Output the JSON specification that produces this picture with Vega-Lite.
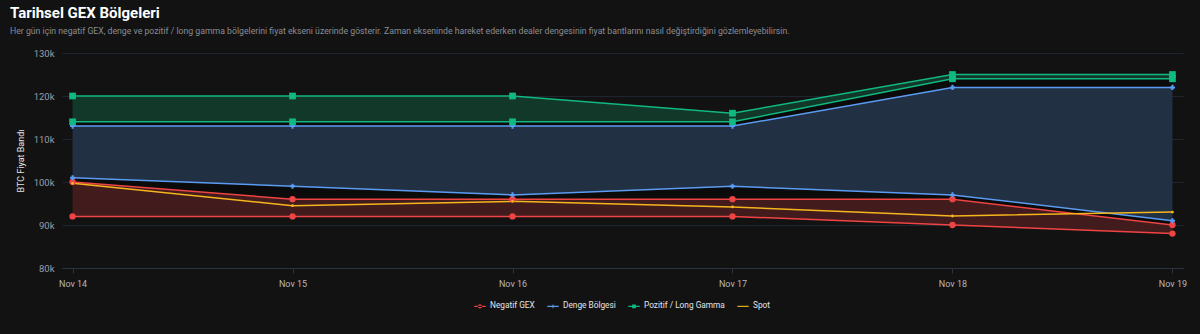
{
  "$schema": "https://vega.github.io/schema/vega-lite/v6.json",
  "width": 1121,
  "height": 215,
  "autosize": {"type": "none"},
  "padding": {"left": 62, "top": 53, "right": 17, "bottom": 66},
  "background": "#121212",
  "title": {
    "text": "Tarihsel GEX Bölgeleri",
    "subtitle": "Her gün için negatif GEX, denge ve pozitif / long gamma bölgelerini fiyat ekseni üzerinde gösterir. Zaman ekseninde hareket ederken dealer dengesinin fiyat bantlarını nasıl değiştirdiğini gözlemleyebilirsin.",
    "anchor": "start",
    "frame": "group",
    "dx": -52,
    "offset": 12,
    "color": "#ffffff",
    "fontSize": 15,
    "fontWeight": "bold",
    "subtitleColor": "#8a8d93",
    "subtitleFontSize": 8.7,
    "subtitlePadding": 6
  },
  "config": {
    "font": "Roboto",
    "view": {"stroke": null},
    "axis": {"labelFont": "Roboto", "titleFont": "Roboto"},
    "legend": {"labelFont": "Roboto", "layout": {"bottom": {"anchor": "middle"}}}
  },
  "data": {
    "values": [
      {"date": "Nov 14", "neg_lo": 92000, "neg_hi": 100000, "den_lo": 101000, "den_hi": 113000, "poz_lo": 114000, "poz_hi": 120000, "spot": 99700},
      {"date": "Nov 15", "neg_lo": 92000, "neg_hi": 96000, "den_lo": 99000, "den_hi": 113000, "poz_lo": 114000, "poz_hi": 120000, "spot": 94500},
      {"date": "Nov 16", "neg_lo": 92000, "neg_hi": 96000, "den_lo": 97000, "den_hi": 113000, "poz_lo": 114000, "poz_hi": 120000, "spot": 95500},
      {"date": "Nov 17", "neg_lo": 92000, "neg_hi": 96000, "den_lo": 99000, "den_hi": 113000, "poz_lo": 114000, "poz_hi": 116000, "spot": 94200},
      {"date": "Nov 18", "neg_lo": 90000, "neg_hi": 96000, "den_lo": 97000, "den_hi": 122000, "poz_lo": 124000, "poz_hi": 125000, "spot": 92100},
      {"date": "Nov 19", "neg_lo": 88000, "neg_hi": 90000, "den_lo": 91000, "den_hi": 122000, "poz_lo": 124000, "poz_hi": 125000, "spot": 93000}
    ]
  },
  "encoding": {
    "x": {
      "field": "date",
      "type": "ordinal",
      "sort": null,
      "scale": {"type": "point", "padding": 0.048},
      "axis": {
        "title": null,
        "labelAngle": 0,
        "labelColor": "#b5b8bd",
        "labelFontSize": 9,
        "labelPadding": 6,
        "domainColor": "#2c3340",
        "tickColor": "#2c3340",
        "tickSize": 5,
        "grid": false
      }
    }
  },
  "layer": [
    {
      "mark": {"type": "area", "color": "#421b1d", "opacity": 1},
      "encoding": {
        "y": {
          "field": "neg_lo",
          "type": "quantitative",
          "scale": {"domain": [80000, 130000], "nice": false, "zero": false},
          "axis": {
            "title": "BTC Fiyat Bandı",
            "titleColor": "#e6e6e6",
            "titleFontSize": 9,
            "titleFontWeight": "normal",
            "titlePadding": 8,
            "format": "~s",
            "values": [80000, 90000, 100000, 110000, 120000, 130000],
            "labelColor": "#9b9ea4",
            "labelFontSize": 9.5,
            "labelPadding": 8,
            "domain": false,
            "ticks": false,
            "gridColor": "#1f252e",
            "gridWidth": 1
          }
        },
        "y2": {"field": "neg_hi"}
      }
    },
    {
      "mark": {"type": "area", "color": "#0b0b0b", "opacity": 1},
      "encoding": {"y": {"field": "neg_hi", "type": "quantitative"}, "y2": {"field": "den_lo"}}
    },
    {
      "mark": {"type": "area", "color": "#223044", "opacity": 1},
      "encoding": {"y": {"field": "den_lo", "type": "quantitative"}, "y2": {"field": "den_hi"}}
    },
    {
      "mark": {"type": "area", "color": "#0b0b0b", "opacity": 1},
      "encoding": {"y": {"field": "den_hi", "type": "quantitative"}, "y2": {"field": "poz_lo"}}
    },
    {
      "mark": {"type": "area", "color": "#12382a", "opacity": 1},
      "encoding": {"y": {"field": "poz_lo", "type": "quantitative"}, "y2": {"field": "poz_hi"}}
    },
    {
      "mark": {"type": "line", "strokeWidth": 1.5},
      "encoding": {
        "y": {"field": "neg_lo", "type": "quantitative"},
        "color": {
          "datum": "Negatif GEX",
          "scale": {
            "domain": ["Negatif GEX", "Denge Bölgesi", "Pozitif / Long Gamma", "Spot"],
            "range": ["#ef4444", "#5b9cf2", "#10b981", "#f5b51d"]
          },
          "legend": {
            "title": null,
            "orient": "bottom",
            "direction": "horizontal",
            "offset": 12,
            "labelColor": "#e3e5e8",
            "labelFontSize": 8.3,
            "labelOffset": 4,
            "columnPadding": 12,
            "symbolSize": 130,
            "encode": {
              "symbols": {
                "update": {
                  "shape": {"signal": "datum.value == 'Negatif GEX' ? 'M-1,-0.12 L1,-0.12 L1,0.12 L-1,0.12 Z M-0.38,0 A0.38,0.38 0 1,0 0.38,0 A0.38,0.38 0 1,0 -0.38,0 Z' : datum.value == 'Denge Bölgesi' ? 'M-1,-0.12 L1,-0.12 L1,0.12 L-1,0.12 Z M0,-0.4 L0.12,-0.12 L0.4,0 L0.12,0.12 L0,0.4 L-0.12,0.12 L-0.4,0 L-0.12,-0.12 Z' : datum.value == 'Pozitif / Long Gamma' ? 'M-1,-0.12 L1,-0.12 L1,0.12 L-1,0.12 Z M-0.33,-0.33 L0.33,-0.33 L0.33,0.33 L-0.33,0.33 Z' : 'M-1,-0.1 L1,-0.1 L1,0.1 L-1,0.1 Z'"},
                  "fill": {"scale": "color", "field": "value"},
                  "strokeWidth": {"value": 0},
                  "opacity": {"value": 1}
                }
              }
            }
          }
        }
      }
    },
    {
      "mark": {"type": "line", "strokeWidth": 1.5},
      "encoding": {"y": {"field": "neg_hi", "type": "quantitative"}, "color": {"datum": "Negatif GEX"}}
    },
    {
      "mark": {"type": "line", "strokeWidth": 1.5},
      "encoding": {"y": {"field": "den_lo", "type": "quantitative"}, "color": {"datum": "Denge Bölgesi"}}
    },
    {
      "mark": {"type": "line", "strokeWidth": 1.5},
      "encoding": {"y": {"field": "den_hi", "type": "quantitative"}, "color": {"datum": "Denge Bölgesi"}}
    },
    {
      "mark": {"type": "line", "strokeWidth": 1.5},
      "encoding": {"y": {"field": "poz_lo", "type": "quantitative"}, "color": {"datum": "Pozitif / Long Gamma"}}
    },
    {
      "mark": {"type": "line", "strokeWidth": 1.5},
      "encoding": {"y": {"field": "poz_hi", "type": "quantitative"}, "color": {"datum": "Pozitif / Long Gamma"}}
    },
    {
      "mark": {"type": "line", "strokeWidth": 1.5},
      "encoding": {"y": {"field": "spot", "type": "quantitative"}, "color": {"datum": "Spot"}}
    },
    {
      "mark": {"type": "point", "shape": "circle", "filled": true, "size": 40, "opacity": 1, "color": "#ef4444"},
      "encoding": {"y": {"field": "neg_lo", "type": "quantitative"}}
    },
    {
      "mark": {"type": "point", "shape": "circle", "filled": true, "size": 40, "opacity": 1, "color": "#ef4444"},
      "encoding": {"y": {"field": "neg_hi", "type": "quantitative"}}
    },
    {
      "mark": {"type": "point", "shape": "cross", "filled": true, "size": 26, "opacity": 1, "color": "#5b9cf2"},
      "encoding": {"y": {"field": "den_lo", "type": "quantitative"}}
    },
    {
      "mark": {"type": "point", "shape": "cross", "filled": true, "size": 26, "opacity": 1, "color": "#5b9cf2"},
      "encoding": {"y": {"field": "den_hi", "type": "quantitative"}}
    },
    {
      "mark": {"type": "point", "shape": "square", "filled": true, "size": 45, "opacity": 1, "color": "#10b981"},
      "encoding": {"y": {"field": "poz_lo", "type": "quantitative"}}
    },
    {
      "mark": {"type": "point", "shape": "square", "filled": true, "size": 45, "opacity": 1, "color": "#10b981"},
      "encoding": {"y": {"field": "poz_hi", "type": "quantitative"}}
    },
    {
      "mark": {"type": "point", "shape": "circle", "filled": true, "size": 8, "opacity": 1, "color": "#f5b51d"},
      "encoding": {"y": {"field": "spot", "type": "quantitative"}}
    }
  ]
}
